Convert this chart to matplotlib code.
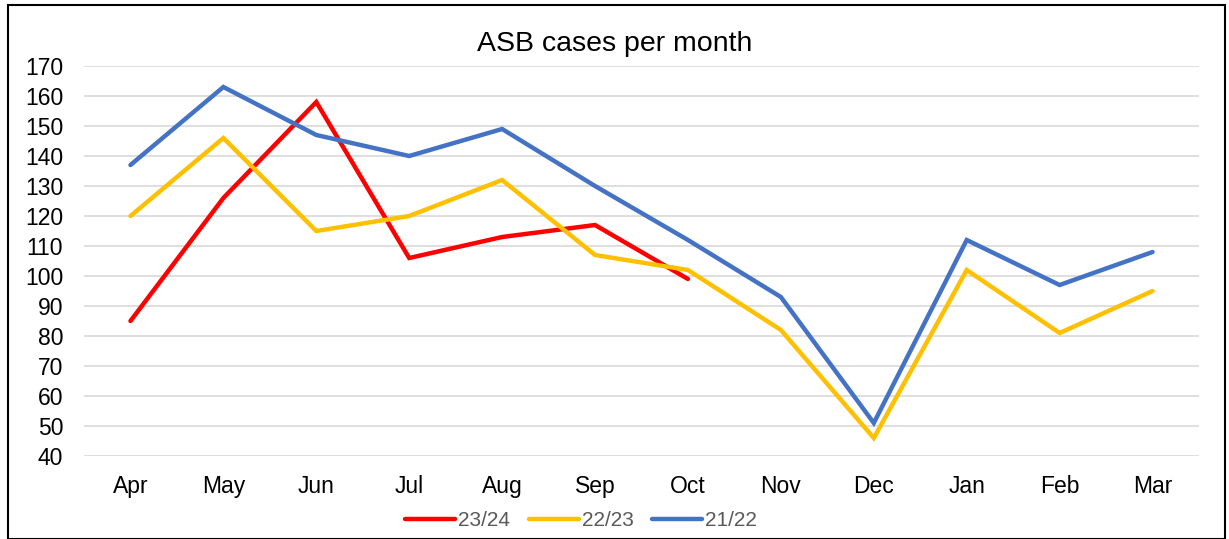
import matplotlib.pyplot as plt
from matplotlib.patches import Rectangle

plt.rcParams['font.family'] = ['Liberation Sans', 'DejaVu Sans']

# Data
months = ['Apr', 'May', 'Jun', 'Jul', 'Aug', 'Sep', 'Oct', 'Nov', 'Dec', 'Jan', 'Feb', 'Mar']
cases_2324 = [85, 126, 158, 106, 113, 117, 99]
cases_2223 = [120, 146, 115, 120, 132, 107, 102, 82, 46, 102, 81, 95]
cases_2122 = [137, 163, 147, 140, 149, 130, 112, 93, 51, 112, 97, 108]

fig = plt.figure(figsize=(12.29, 5.39), dpi=100)
ax = fig.add_axes([84 / 1229, 1 - 456 / 539, (1199 - 84) / 1229, (456 - 66) / 539])

x_all = list(range(len(months)))
ax.plot(x_all[:len(cases_2324)], cases_2324, color='#FF0000', lw=3.2, label='23/24',
        solid_capstyle='round', solid_joinstyle='miter', zorder=3)
ax.plot(x_all, cases_2223, color='#FFC000', lw=3.2, label='22/23',
        solid_capstyle='round', solid_joinstyle='miter', zorder=3)
ax.plot(x_all, cases_2122, color='#4472C4', lw=3.2, label='21/22',
        solid_capstyle='round', solid_joinstyle='miter', zorder=3)

ax.set_xlim(-0.5, len(months) - 0.5)
ax.set_ylim(40, 170)
ax.set_yticks(range(40, 171, 10))
ax.set_xticks(x_all)
ax.set_xticklabels(months)
ax.grid(axis='y', color='#D9D9D9', lw=1.2)
ax.set_axisbelow(True)
for s in ax.spines.values():
    s.set_visible(False)
ax.tick_params(length=0, labelsize=16.5, colors='black')
ax.tick_params(axis='x', pad=14)
ax.tick_params(axis='y', pad=15)

fig.text(0.5, 1 - 44 / 539, 'ASB cases per month', ha='center', va='center', fontsize=20.5)

leg = fig.legend(loc='center', bbox_to_anchor=(581 / 1229, 1 - 521 / 539), ncol=3, frameon=False,
                 fontsize=15, handlelength=2.4, columnspacing=0.9, handletextpad=0.15)
for t in leg.get_texts():
    t.set_color('#595959')
for h in leg.get_lines():
    h.set_solid_capstyle('round')

fig.patches.append(Rectangle((8 / 1229, 0), (1225 - 8) / 1229, 1 - 5 / 539,
                             transform=fig.transFigure, fill=False, edgecolor='black', lw=1.5))

fig.savefig('out.png', dpi=100)
